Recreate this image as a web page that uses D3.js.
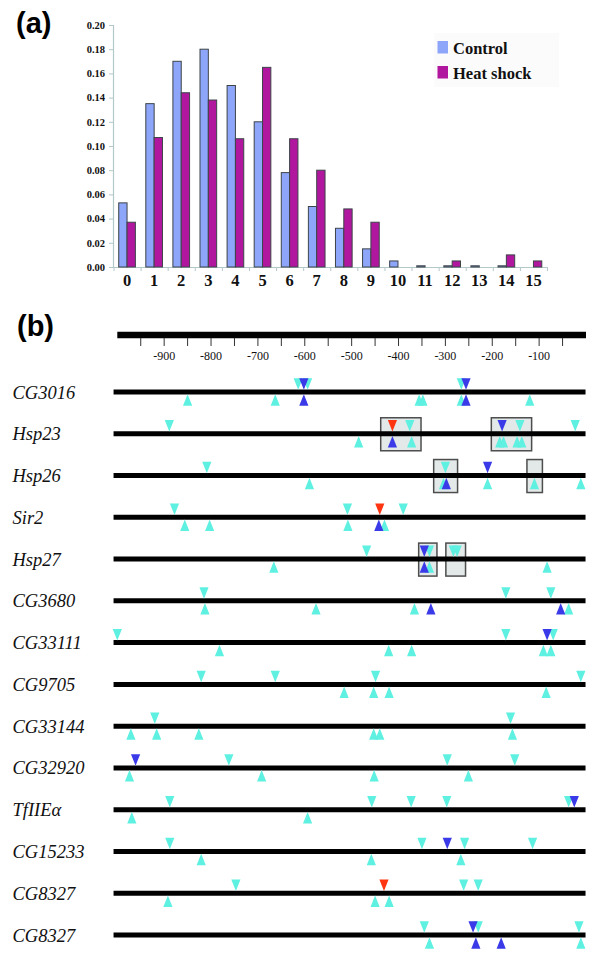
<!DOCTYPE html>
<html><head><meta charset="utf-8">
<script src="https://cdn.jsdelivr.net/npm/d3@7/dist/d3.min.js"></script>
<style>body{margin:0;background:#fff}svg{display:block}</style>
</head><body><svg id="chart" width="600" height="964"></svg>
<script>
// ---------- Panel (a) data ----------
const categories = ["0","1","2","3","4","5","6","7","8","9","10","11","12","13","14","15"];
const seriesNames = ["Control", "Heat shock"];
const controlValues   = [0.053,0.135,0.170,0.180,0.150,0.120,0.078,0.050,0.032,0.015,0.005,0.001,0.001,0.001,0.001,0.000];
const heatShockValues = [0.037,0.107,0.144,0.138,0.106,0.165,0.106,0.080,0.048,0.037,0.000,0.000,0.005,0.000,0.010,0.005];
const yTickValues = [0,0.02,0.04,0.06,0.08,0.10,0.12,0.14,0.16,0.18,0.20];

// ---------- Panel (b) data ----------
const genes = ["CG3016","Hsp23","Hsp26","Sir2","Hsp27","CG3680","CG33111","CG9705","CG33144","CG32920","TfIIEα","CG15233","CG8327","CG8327"];
const scaleTickValues = [-950,-900,-850,-800,-750,-700,-650,-600,-550,-500,-450,-400,-350,-300,-250,-200,-150,-100,-50];
const scaleLabelValues = [-900,-800,-700,-600,-500,-400,-300,-200,-100];
// [gene row, position (bp), "d" above pointing down / "u" below pointing up, class c=cyan b=blue r=red]
const sites = [
  [0,-850,"u","c"],[0,-663,"u","c"],[0,-614,"d","c"],[0,-594,"d","c"],[0,-602,"d","b"],[0,-602,"u","b"],
  [0,-356,"u","c"],[0,-348,"u","c"],[0,-266,"d","c"],[0,-256,"d","b"],[0,-266,"u","c"],[0,-256,"u","b"],[0,-120,"u","c"],
  [1,-889,"d","c"],[1,-485,"u","c"],[1,-413,"d","r"],[1,-376,"d","c"],[1,-413,"u","b"],[1,-372,"u","c"],
  [1,-179,"d","b"],[1,-141,"d","c"],[1,-184,"u","c"],[1,-176,"u","c"],[1,-147,"u","c"],[1,-137,"u","c"],[1,-23,"d","c"],
  [2,-809,"d","c"],[2,-590,"u","c"],[2,-300,"d","c"],[2,-304,"u","c"],[2,-298,"u","b"],[2,-210,"d","b"],[2,-210,"u","c"],
  [2,-110,"u","c"],[2,-11,"u","c"],
  [3,-878,"d","c"],[3,-856,"u","c"],[3,-803,"u","c"],[3,-509,"d","c"],[3,-508,"u","c"],[3,-430,"u","c"],[3,-442,"u","b"],
  [3,-440,"d","r"],[3,-390,"d","c"],
  [4,-666,"u","c"],[4,-468,"d","c"],[4,-334,"d","c"],[4,-345,"d","b"],[4,-334,"u","c"],[4,-345,"u","b"],
  [4,-283,"d","c"],[4,-275,"d","c"],[4,-83,"u","c"],
  [5,-815,"d","c"],[5,-813,"u","c"],[5,-576,"u","c"],[5,-366,"u","c"],[5,-331,"u","b"],[5,-171,"d","c"],[5,-75,"d","c"],
  [5,-54,"u","b"],[5,-37,"u","c"],
  [6,-1000,"d","c"],[6,-782,"u","c"],[6,-421,"u","c"],[6,-372,"u","c"],[6,-171,"d","c"],[6,-70,"d","c"],[6,-83,"d","b"],
  [6,-91,"u","c"],[6,-75,"u","c"],
  [7,-821,"d","c"],[7,-663,"d","c"],[7,-449,"d","c"],[7,-516,"u","c"],[7,-453,"u","c"],[7,-420,"u","c"],[7,-85,"u","c"],[7,-11,"d","c"],
  [8,-920,"d","c"],[8,-971,"u","c"],[8,-916,"u","c"],[8,-826,"u","c"],[8,-453,"u","c"],[8,-440,"u","c"],[8,-161,"d","c"],[8,-157,"u","c"],
  [9,-961,"d","b"],[9,-762,"d","c"],[9,-296,"d","c"],[9,-152,"d","c"],[9,-974,"u","c"],[9,-692,"u","c"],[9,-452,"u","c"],[9,-251,"u","c"],
  [10,-888,"d","c"],[10,-969,"u","c"],[10,-594,"u","c"],[10,-457,"d","c"],[10,-373,"d","c"],[10,-297,"d","c"],[10,-37,"d","c"],[10,-25,"d","b"],
  [11,-888,"d","c"],[11,-821,"u","c"],[11,-458,"u","c"],[11,-350,"d","c"],[11,-296,"d","b"],[11,-259,"d","c"],[11,-267,"u","c"],[11,-114,"d","c"],
  [12,-892,"u","c"],[12,-747,"d","c"],[12,-431,"d","r"],[12,-450,"u","c"],[12,-420,"u","c"],[12,-261,"d","c"],[12,-230,"d","c"],
  [13,-345,"d","c"],[13,-334,"u","c"],[13,-230,"d","c"],[13,-241,"d","b"],[13,-235,"u","b"],[13,-181,"u","b"],[13,-15,"d","c"],[13,-11,"u","c"]
];
// [gene row, start bp, end bp]
const boxes = [[1,-438,-352],[1,-202,-116],[2,-325,-274],[2,-126,-93],[4,-357,-318],[4,-299,-257]];

// ---------- styles ----------
const svg = d3.select("#chart");
const serif = "'Liberation Serif','Times New Roman',serif";
const sans = "'Liberation Sans',Arial,sans-serif";
const colControl = "#8da6fa", colHeat = "#b0179e";
const siteColors = {c:"#5ef0e0", b:"#3a3ae8", r:"#ff3512"};
const axisCol = "#b3c8c8";

// ---------- Panel (a) ----------
svg.append("text").attr("x",16).attr("y",33).attr("font-family",sans).attr("font-weight","bold")
  .attr("font-size",29).text("(a)");

const x0 = d3.scaleBand().domain(categories).range([113.5,547]).paddingInner(0.385).paddingOuter(0.1925);
const x1 = d3.scaleBand().domain(seriesNames).range([0,x0.bandwidth()]);
const y = d3.scaleLinear().domain([0,0.20]).range([267,25]);

const yAxis = svg.append("g").attr("transform","translate(113,0)")
  .call(d3.axisLeft(y).tickValues(yTickValues).tickFormat(d3.format(".2f")).tickSize(4).tickPadding(4));
yAxis.select(".domain").attr("stroke",axisCol).attr("stroke-width",1.2);
yAxis.selectAll(".tick line").attr("stroke",axisCol);
yAxis.selectAll(".tick text").attr("font-family",serif).attr("font-weight","bold").attr("font-size",10.5).attr("fill","#111");

const xAxisBase = d3.scaleLinear().domain([0,categories.length]).range(x0.range());
const xAxis = svg.append("g").attr("transform","translate(0,267)")
  .call(d3.axisBottom(xAxisBase).tickValues(d3.range(categories.length+1)).tickFormat("").tickSize(4).tickSizeOuter(0));
xAxis.select(".domain").attr("stroke",axisCol).attr("stroke-width",1.2);
xAxis.selectAll(".tick line").attr("stroke",axisCol);

svg.append("g").selectAll("text").data(categories).join("text")
  .attr("x",d=>x0(d)+x0.bandwidth()/2).attr("y",286)
  .attr("text-anchor","middle").attr("font-family",serif).attr("font-weight","bold").attr("font-size",16.5)
  .attr("fill","#111").text(d=>d);

const barData = categories.flatMap((c,i)=>[
  {c, s:seriesNames[0], v:controlValues[i], col:colControl},
  {c, s:seriesNames[1], v:heatShockValues[i], col:colHeat}
]).filter(d=>d.v>0);
svg.append("g").selectAll("rect").data(barData).join("rect")
  .attr("x",d=>x0(d.c)+x1(d.s)).attr("width",x1.bandwidth())
  .attr("y",d=>y(d.v)).attr("height",d=>y(0)-y(d.v))
  .attr("fill",d=>d.col).attr("stroke","#3d4448").attr("stroke-width",1);

// legend
const lg = svg.append("g");
lg.append("rect").attr("x",434).attr("y",33).attr("width",125).attr("height",54).attr("fill","#fbfbfb");
seriesNames.forEach((s,i)=>{
  lg.append("rect").attr("x",437.5).attr("y",41+i*25).attr("width",10.5).attr("height",12.5)
    .attr("fill",i===0?colControl:colHeat);
  lg.append("text").attr("x",453).attr("y",53.5+i*25).attr("font-family",serif).attr("font-weight","bold")
    .attr("font-size",16.5).attr("fill","#111").text(s);
});

// ---------- Panel (b) ----------
svg.append("text").attr("x",17).attr("y",336).attr("font-family",sans).attr("font-weight","bold")
  .attr("font-size",29).text("(b)");

const xb = d3.scaleLinear().domain([-1000,0]).range([117.3,586]);
const row = d3.scalePoint().domain(d3.range(genes.length)).range([392,935]);

// scale bar
svg.append("line").attr("x1",xb(-1000)).attr("x2",xb(0)).attr("y1",335).attr("y2",335)
  .attr("stroke","#000").attr("stroke-width",6.5);
svg.append("g").selectAll("line").data(scaleTickValues).join("line")
  .attr("x1",d=>xb(d)).attr("x2",d=>xb(d)).attr("y1",338).attr("y2",346)
  .attr("stroke","#333").attr("stroke-width",1);
svg.append("g").selectAll("text").data(scaleLabelValues).join("text")
  .attr("x",d=>xb(d)).attr("y",360).attr("text-anchor","middle")
  .attr("font-family",serif).attr("font-size",12).attr("fill","#111").text(d=>d);

// boxes (behind the gene lines)
svg.append("g").selectAll("rect").data(boxes).join("rect")
  .attr("x",d=>xb(d[1])).attr("width",d=>xb(d[2])-xb(d[1]))
  .attr("y",d=>row(d[0])-16).attr("height",33)
  .attr("fill","#e3e8e8").attr("stroke","#4d4d4d").attr("stroke-width",1.5);

// gene labels and lines
svg.append("g").selectAll("text").data(genes).join("text")
  .attr("x",12.5).attr("y",(d,i)=>row(i)+6.5)
  .attr("font-family",serif).attr("font-style","italic").attr("font-size",18.5).attr("fill","#111")
  .text(d=>d);
svg.append("g").selectAll("line").data(genes).join("line")
  .attr("x1",xb(-1008)).attr("x2",xb(-1)).attr("y1",(d,i)=>row(i)).attr("y2",(d,i)=>row(i))
  .attr("stroke","#000").attr("stroke-width",5);

// triangles
const order = {c:0,b:1,r:2};
const tw = 4.6, th = 11.5, gap = 2.2;
function tri(d){
  const cx = xb(d[1]), cy = row(d[0]);
  if (d[2]==="d") {
    const top = cy-gap-th, tip = cy-gap;
    return `M${cx-tw},${top}L${cx+tw},${top}L${cx},${tip}Z`;
  } else {
    const bot = cy+gap+th, tip = cy+gap;
    return `M${cx-tw},${bot}L${cx+tw},${bot}L${cx},${tip}Z`;
  }
}
svg.append("g").selectAll("path").data(sites.slice().sort((a,b)=>order[a[3]]-order[b[3]])).join("path")
  .attr("d",tri).attr("fill",d=>siteColors[d[3]]);
</script></body></html>
